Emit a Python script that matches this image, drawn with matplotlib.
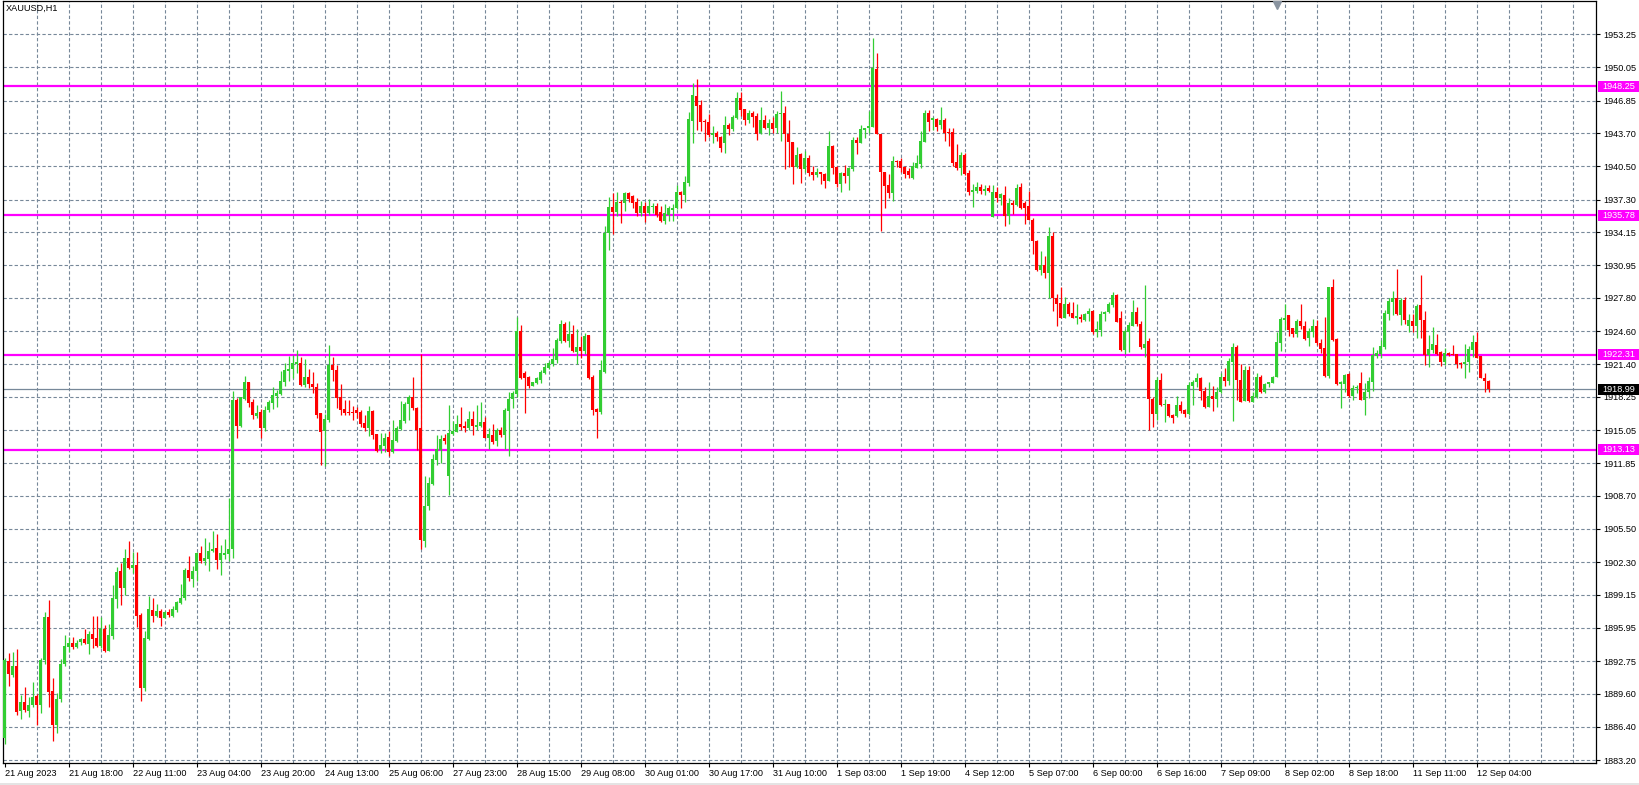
import numpy as np
import matplotlib
matplotlib.use("Agg")
import matplotlib.pyplot as plt
from matplotlib.patches import Rectangle
from matplotlib import transforms

# XAUUSD H1 bars (open, high, low, close)
opens = [
    1885.30, 1892.76, 1891.40, 1892.30, 1887.90, 1888.80, 1887.90, 1888.50, 1889.40, 1888.50,
    1892.90, 1897.00, 1889.90, 1886.60, 1889.10, 1892.50, 1894.15, 1894.46, 1894.10, 1894.60,
    1894.90, 1894.40, 1895.40, 1895.00, 1894.20, 1895.85, 1893.70, 1895.20, 1898.70, 1901.45,
    1899.84, 1902.67, 1901.77, 1902.03, 1897.20, 1890.19, 1894.90, 1897.68, 1897.14, 1897.58,
    1896.94, 1897.50, 1897.14, 1897.70, 1898.40, 1898.80, 1901.55, 1900.70, 1901.40, 1903.15,
    1902.45, 1902.64, 1903.38, 1903.64, 1902.50, 1903.00, 1903.12, 1903.57, 1917.95, 1915.41,
    1918.05, 1919.70, 1917.76, 1916.40, 1916.83, 1915.28, 1916.99, 1917.70, 1918.37, 1918.53,
    1919.72, 1920.78, 1920.95, 1921.40, 1921.50, 1919.40, 1920.17, 1919.47, 1919.18, 1916.67,
    1915.00, 1916.02, 1921.33, 1920.85, 1918.21, 1917.09, 1916.83, 1916.83, 1916.99, 1916.80,
    1915.76, 1915.22, 1916.89, 1914.67, 1913.12, 1913.54, 1914.40, 1912.90, 1914.02, 1915.15,
    1915.95, 1917.60, 1918.24, 1917.20, 1915.24, 1904.37, 1907.75, 1909.81, 1912.15, 1913.15,
    1914.31, 1910.64, 1914.67, 1914.89, 1915.63, 1915.47, 1915.21, 1916.11, 1915.37, 1915.44,
    1915.82, 1914.31, 1914.60, 1913.99, 1915.05, 1914.57, 1916.92, 1918.04, 1918.53, 1924.61,
    1920.52, 1920.14, 1919.33, 1919.56, 1919.88, 1920.59, 1921.07, 1921.39, 1921.81, 1923.64,
    1925.28, 1923.67, 1924.32, 1922.55, 1923.10, 1922.71, 1924.23, 1920.20, 1917.10, 1916.83,
    1920.69, 1934.04, 1936.61, 1936.13, 1937.10, 1936.94, 1937.90, 1937.64, 1937.10, 1936.03,
    1936.68, 1935.97, 1936.55, 1936.68, 1936.07, 1935.23, 1935.80, 1936.30, 1936.45, 1938.06,
    1937.74, 1938.87, 1944.88, 1947.30, 1946.42, 1944.91, 1944.82, 1943.56, 1943.76, 1943.37,
    1942.79, 1944.50, 1944.08, 1945.20, 1947.07, 1946.04, 1944.98, 1945.69, 1945.36, 1943.69,
    1944.98, 1944.24, 1944.72, 1944.17, 1945.56, 1945.62, 1943.66, 1942.89, 1940.47, 1941.70,
    1940.25, 1941.34, 1940.00, 1939.67, 1940.00, 1939.74, 1939.09, 1942.47, 1940.45, 1938.80,
    1939.90, 1939.61, 1940.25, 1943.05, 1942.79, 1944.01, 1944.17, 1944.34, 1949.90, 1943.60,
    1940.00, 1938.70, 1937.97, 1941.06, 1941.02, 1940.47, 1940.09, 1939.35, 1940.38, 1940.70,
    1942.89, 1945.69, 1944.98, 1945.04, 1944.50, 1944.98, 1943.86, 1943.85, 1940.96, 1940.38,
    1941.60, 1939.90, 1938.06, 1938.16, 1938.48, 1938.16, 1938.38, 1935.65, 1938.06, 1937.48,
    1937.74, 1935.74, 1936.99, 1936.77, 1938.54, 1936.99, 1936.67, 1935.32, 1933.33, 1930.50,
    1930.98, 1930.24, 1933.78, 1927.76, 1927.28, 1925.90, 1927.22, 1926.32, 1925.90, 1925.93,
    1925.67, 1926.22, 1926.54, 1924.55, 1924.71, 1926.22, 1926.41, 1927.12, 1928.09, 1925.90,
    1922.78, 1924.55, 1925.13, 1926.48, 1925.30, 1922.93, 1923.64, 1918.01, 1916.59, 1919.88,
    1917.50, 1917.56, 1916.50, 1916.43, 1917.46, 1916.98, 1916.59, 1919.33, 1919.65, 1920.04,
    1918.85, 1917.30, 1918.33, 1918.04, 1918.69, 1920.20, 1919.81, 1921.65, 1923.03, 1919.88,
    1917.88, 1920.84, 1917.78, 1918.27, 1920.20, 1918.69, 1919.46, 1919.62, 1920.20, 1923.42,
    1925.67, 1926.15, 1924.87, 1924.32, 1925.60, 1925.12, 1923.90, 1924.55, 1925.12, 1923.42,
    1922.93, 1920.26, 1928.89, 1923.84, 1919.47, 1919.47, 1920.47, 1918.37, 1919.15, 1919.56,
    1917.95, 1918.70, 1919.72, 1922.24, 1922.37, 1923.10, 1926.22, 1927.45, 1927.77, 1926.16,
    1927.61, 1925.13, 1925.58, 1925.10, 1927.12, 1925.68, 1922.30, 1922.78, 1923.26, 1922.56,
    1921.65, 1922.46, 1922.40, 1922.37, 1921.56, 1921.40, 1921.59, 1922.78, 1923.58, 1922.24,
    1920.11, 1919.79,
]
highs = [
    1893.00, 1893.50, 1893.60, 1893.90, 1889.50, 1890.20, 1889.30, 1890.70, 1889.60, 1893.05,
    1897.50, 1898.65, 1891.10, 1889.70, 1892.95, 1895.30, 1895.10, 1895.10, 1894.80, 1895.00,
    1895.85, 1895.70, 1897.10, 1897.10, 1897.04, 1896.20, 1896.30, 1900.10, 1901.87, 1902.20,
    1903.54, 1904.30, 1903.25, 1903.25, 1897.36, 1895.66, 1899.03, 1898.84, 1898.26, 1897.78,
    1897.58, 1897.75, 1898.04, 1898.55, 1900.20, 1901.70, 1902.93, 1901.93, 1903.30, 1903.86,
    1904.60, 1904.25, 1905.30, 1905.00, 1903.96, 1904.50, 1908.46, 1918.82, 1918.10, 1918.28,
    1920.27, 1919.70, 1918.02, 1917.47, 1917.12, 1917.41, 1917.95, 1919.17, 1918.92, 1920.75,
    1921.49, 1922.20, 1922.26, 1922.78, 1922.14, 1921.88, 1920.91, 1920.62, 1919.56, 1916.73,
    1916.60, 1923.26, 1922.07, 1921.33, 1919.50, 1917.95, 1917.95, 1917.41, 1917.31, 1916.99,
    1916.51, 1917.37, 1916.99, 1914.67, 1914.80, 1914.73, 1914.95, 1916.02, 1915.47, 1917.85,
    1917.72, 1918.40, 1920.17, 1917.30, 1922.36, 1910.61, 1910.55, 1912.70, 1914.57, 1914.57,
    1914.63, 1917.46, 1915.92, 1916.50, 1917.30, 1915.92, 1916.88, 1916.92, 1917.46, 1917.72,
    1916.34, 1915.28, 1915.63, 1915.21, 1915.37, 1917.14, 1918.75, 1918.82, 1925.93, 1925.19,
    1920.75, 1920.27, 1919.72, 1920.20, 1920.85, 1921.49, 1921.71, 1923.00, 1923.90, 1925.67,
    1925.51, 1925.60, 1925.19, 1924.80, 1924.13, 1924.39, 1924.23, 1920.36, 1917.15, 1921.81,
    1934.78, 1937.58, 1937.96, 1938.00, 1937.26, 1938.06, 1938.00, 1937.74, 1937.48, 1937.16,
    1937.10, 1937.32, 1936.94, 1936.94, 1936.71, 1936.87, 1936.68, 1936.84, 1938.70, 1938.13,
    1939.57, 1945.78, 1948.52, 1948.94, 1946.91, 1945.08, 1945.56, 1944.40, 1943.92, 1943.43,
    1945.36, 1944.72, 1945.46, 1947.71, 1947.71, 1946.04, 1945.94, 1945.85, 1945.62, 1946.27,
    1945.46, 1945.04, 1945.30, 1945.85, 1947.78, 1946.33, 1944.98, 1942.89, 1942.34, 1941.83,
    1941.99, 1941.60, 1940.54, 1940.31, 1940.00, 1939.83, 1943.92, 1942.57, 1940.54, 1940.00,
    1940.64, 1940.47, 1943.37, 1943.37, 1944.50, 1944.24, 1945.85, 1952.86, 1951.42, 1943.60,
    1940.00, 1939.77, 1941.50, 1941.12, 1941.34, 1940.54, 1940.31, 1940.96, 1941.60, 1943.92,
    1945.94, 1945.94, 1945.24, 1945.20, 1946.27, 1945.14, 1944.24, 1944.24, 1942.66, 1941.92,
    1941.76, 1940.15, 1938.77, 1938.96, 1938.80, 1938.70, 1938.70, 1938.70, 1938.54, 1937.90,
    1938.64, 1937.48, 1937.26, 1938.80, 1938.93, 1937.16, 1938.13, 1935.49, 1933.39, 1932.33,
    1931.85, 1934.68, 1934.13, 1928.18, 1928.83, 1927.86, 1927.44, 1927.38, 1927.22, 1926.22,
    1926.38, 1926.80, 1926.64, 1925.58, 1926.54, 1926.54, 1927.44, 1928.41, 1928.15, 1926.54,
    1924.77, 1925.45, 1927.60, 1926.96, 1925.60, 1929.05, 1923.90, 1918.27, 1920.14, 1920.59,
    1918.01, 1917.56, 1916.59, 1918.33, 1917.88, 1917.08, 1919.72, 1919.88, 1920.52, 1920.20,
    1919.23, 1919.72, 1919.30, 1919.23, 1920.52, 1921.00, 1921.97, 1923.42, 1923.26, 1921.42,
    1921.23, 1921.23, 1918.75, 1920.52, 1920.36, 1919.62, 1919.72, 1920.27, 1924.55, 1925.99,
    1927.18, 1926.15, 1924.87, 1925.73, 1927.21, 1925.60, 1924.87, 1925.73, 1925.67, 1923.80,
    1925.99, 1928.89, 1929.63, 1923.90, 1919.79, 1920.43, 1920.53, 1919.40, 1919.40, 1920.63,
    1919.56, 1920.21, 1923.10, 1922.78, 1923.75, 1926.64, 1927.83, 1928.47, 1930.60, 1927.77,
    1927.86, 1926.26, 1926.26, 1927.19, 1930.02, 1926.55, 1924.23, 1925.03, 1924.29, 1922.69,
    1923.00, 1922.62, 1923.26, 1922.37, 1921.65, 1923.33, 1923.20, 1924.23, 1924.49, 1922.24,
    1920.53, 1919.88,
]
lows = [
    1884.75, 1890.38, 1891.20, 1887.55, 1887.20, 1887.80, 1887.40, 1888.30, 1886.60, 1887.70,
    1892.50, 1888.35, 1885.07, 1885.80, 1888.80, 1892.30, 1893.66, 1893.90, 1894.05, 1894.30,
    1894.40, 1893.40, 1894.05, 1894.15, 1894.05, 1893.66, 1893.70, 1894.90, 1897.90, 1898.20,
    1899.13, 1901.64, 1901.30, 1896.07, 1888.93, 1889.90, 1894.80, 1896.56, 1896.97, 1896.17,
    1896.90, 1896.97, 1897.04, 1897.50, 1898.26, 1898.65, 1900.50, 1899.94, 1900.50, 1902.19,
    1902.03, 1901.48, 1903.25, 1901.60, 1901.06, 1902.57, 1902.41, 1902.73, 1914.30, 1915.31,
    1917.95, 1917.30, 1916.15, 1916.22, 1914.32, 1915.00, 1916.83, 1917.12, 1917.31, 1918.44,
    1919.30, 1919.82, 1920.11, 1920.59, 1919.34, 1919.24, 1919.14, 1918.66, 1916.25, 1911.68,
    1911.62, 1915.83, 1919.79, 1917.15, 1916.50, 1916.47, 1916.51, 1916.02, 1916.22, 1915.38,
    1914.96, 1914.48, 1914.16, 1912.90, 1912.86, 1912.96, 1912.57, 1912.80, 1913.93, 1915.05,
    1915.70, 1916.02, 1916.98, 1913.12, 1903.53, 1903.79, 1907.33, 1909.71, 1911.67, 1911.83,
    1913.70, 1908.78, 1914.57, 1914.83, 1915.05, 1914.89, 1915.05, 1914.57, 1915.05, 1915.37,
    1914.25, 1913.22, 1913.67, 1913.54, 1914.41, 1913.19, 1912.57, 1917.14, 1918.27, 1919.97,
    1916.72, 1919.14, 1919.30, 1919.50, 1919.56, 1920.46, 1920.91, 1921.26, 1921.49, 1923.42,
    1923.58, 1923.10, 1922.55, 1921.43, 1922.04, 1922.39, 1919.95, 1916.50, 1914.25, 1916.57,
    1920.52, 1932.43, 1933.94, 1935.71, 1935.00, 1936.23, 1937.10, 1936.45, 1935.74, 1935.71,
    1935.16, 1935.80, 1935.97, 1935.65, 1935.10, 1934.91, 1935.23, 1935.23, 1936.35, 1936.52,
    1937.10, 1938.61, 1942.73, 1944.01, 1943.92, 1942.95, 1943.37, 1942.73, 1942.95, 1941.86,
    1941.83, 1943.53, 1943.92, 1945.04, 1945.36, 1944.50, 1944.72, 1944.33, 1943.05, 1943.63,
    1944.11, 1943.53, 1943.69, 1943.69, 1942.95, 1940.25, 1940.47, 1938.80, 1940.31, 1938.93,
    1940.00, 1939.61, 1939.19, 1939.51, 1938.80, 1938.38, 1939.09, 1939.77, 1938.48, 1938.06,
    1938.87, 1938.22, 1940.09, 1941.70, 1942.73, 1943.28, 1943.69, 1944.27, 1943.60, 1934.30,
    1936.52, 1937.42, 1937.19, 1940.47, 1940.00, 1939.35, 1939.35, 1939.29, 1940.31, 1940.31,
    1942.82, 1943.92, 1944.04, 1943.92, 1944.11, 1942.95, 1942.50, 1940.57, 1940.15, 1939.67,
    1939.67, 1937.74, 1936.61, 1937.96, 1937.84, 1937.74, 1938.06, 1935.65, 1937.10, 1936.77,
    1934.74, 1934.94, 1935.90, 1936.67, 1936.35, 1934.94, 1935.32, 1932.04, 1930.43, 1930.02,
    1929.76, 1927.76, 1926.54, 1925.13, 1925.90, 1925.90, 1926.09, 1925.83, 1925.29, 1925.51,
    1925.61, 1925.61, 1924.29, 1924.06, 1924.16, 1925.61, 1926.38, 1926.96, 1925.51, 1922.68,
    1922.36, 1922.61, 1925.13, 1925.13, 1922.90, 1922.13, 1915.05, 1915.37, 1916.02, 1917.37,
    1915.86, 1916.27, 1915.70, 1916.34, 1916.66, 1916.34, 1916.50, 1917.46, 1919.23, 1917.95,
    1917.14, 1917.30, 1916.92, 1917.24, 1918.59, 1919.33, 1919.39, 1915.95, 1917.95, 1917.78,
    1917.88, 1917.78, 1917.78, 1918.11, 1918.59, 1918.65, 1919.23, 1919.56, 1920.14, 1922.71,
    1924.71, 1924.13, 1924.06, 1924.06, 1924.77, 1923.74, 1923.16, 1924.06, 1923.26, 1922.45,
    1920.20, 1920.04, 1923.65, 1919.40, 1917.15, 1918.76, 1918.28, 1917.95, 1918.60, 1917.95,
    1916.51, 1918.12, 1918.82, 1921.97, 1922.04, 1922.88, 1925.68, 1926.16, 1926.16, 1925.19,
    1925.26, 1924.55, 1924.55, 1923.97, 1923.90, 1921.33, 1921.17, 1922.46, 1922.30, 1921.24,
    1921.33, 1922.20, 1922.30, 1921.01, 1921.01, 1920.11, 1920.69, 1922.14, 1921.97, 1920.11,
    1918.70, 1918.70,
]
closes = [
    1892.90, 1891.47, 1892.30, 1887.87, 1888.80, 1888.00, 1888.50, 1889.30, 1888.50, 1892.90,
    1897.04, 1889.80, 1886.60, 1889.10, 1892.50, 1894.24, 1894.46, 1894.10, 1894.46, 1894.90,
    1894.46, 1895.40, 1894.90, 1894.20, 1895.85, 1893.70, 1895.27, 1898.84, 1901.35, 1899.84,
    1902.67, 1901.70, 1902.03, 1897.14, 1890.19, 1894.98, 1897.78, 1897.14, 1897.58, 1896.94,
    1897.50, 1897.20, 1897.80, 1898.50, 1898.84, 1901.55, 1900.80, 1901.48, 1903.15, 1902.45,
    1902.67, 1903.38, 1903.57, 1902.50, 1903.15, 1903.22, 1903.57, 1917.95, 1915.45, 1918.21,
    1919.72, 1917.70, 1916.47, 1916.73, 1915.28, 1916.99, 1917.79, 1918.44, 1918.60, 1919.79,
    1920.85, 1920.95, 1921.49, 1921.59, 1919.40, 1920.17, 1919.47, 1919.18, 1916.51, 1914.90,
    1916.12, 1921.33, 1920.85, 1918.11, 1916.99, 1916.67, 1916.67, 1916.70, 1916.73, 1915.60,
    1915.22, 1916.89, 1914.58, 1913.03, 1913.60, 1914.31, 1912.90, 1914.09, 1915.28, 1916.02,
    1917.56, 1918.24, 1917.14, 1915.05, 1904.43, 1907.75, 1909.97, 1912.25, 1913.22, 1914.18,
    1914.02, 1914.73, 1914.99, 1915.63, 1915.31, 1915.28, 1916.11, 1915.47, 1915.53, 1915.82,
    1914.31, 1914.63, 1913.93, 1915.05, 1914.57, 1916.98, 1918.04, 1918.59, 1924.61, 1920.04,
    1920.10, 1919.33, 1919.65, 1920.04, 1920.62, 1921.17, 1921.49, 1921.90, 1923.74, 1925.28,
    1923.67, 1924.32, 1922.68, 1923.10, 1922.71, 1924.13, 1920.04, 1916.99, 1916.83, 1920.85,
    1934.10, 1936.61, 1936.13, 1937.06, 1936.94, 1937.90, 1937.32, 1937.00, 1936.03, 1936.68,
    1935.97, 1936.68, 1936.71, 1935.81, 1935.23, 1935.97, 1936.45, 1936.52, 1938.06, 1937.74,
    1939.03, 1945.08, 1947.39, 1946.33, 1944.82, 1944.78, 1943.53, 1943.76, 1943.37, 1942.24,
    1944.50, 1944.08, 1945.30, 1947.07, 1945.94, 1944.98, 1945.69, 1945.30, 1943.63, 1944.98,
    1944.24, 1944.72, 1944.11, 1945.56, 1945.69, 1943.60, 1942.89, 1940.47, 1941.60, 1940.25,
    1941.34, 1939.83, 1939.67, 1940.00, 1939.74, 1939.09, 1942.47, 1940.38, 1938.80, 1939.90,
    1939.61, 1940.31, 1943.05, 1942.79, 1944.08, 1944.17, 1944.40, 1949.97, 1943.60, 1939.93,
    1938.64, 1937.97, 1941.02, 1940.96, 1940.31, 1939.77, 1939.67, 1940.54, 1940.86, 1942.95,
    1945.69, 1944.75, 1945.20, 1944.34, 1944.98, 1943.69, 1943.69, 1940.79, 1940.38, 1941.60,
    1939.77, 1938.06, 1938.22, 1938.54, 1938.16, 1938.29, 1938.13, 1938.06, 1937.42, 1937.80,
    1935.74, 1936.99, 1936.77, 1938.45, 1936.45, 1936.45, 1935.32, 1933.33, 1930.50, 1930.98,
    1930.24, 1933.78, 1927.76, 1927.22, 1925.90, 1927.22, 1926.22, 1925.83, 1926.03, 1925.77,
    1926.25, 1926.54, 1924.55, 1924.77, 1926.25, 1926.48, 1927.22, 1928.09, 1925.51, 1922.78,
    1924.61, 1925.19, 1926.48, 1925.26, 1923.10, 1923.35, 1918.01, 1916.59, 1919.88, 1917.46,
    1917.56, 1916.40, 1916.24, 1917.46, 1916.88, 1916.59, 1919.39, 1919.72, 1920.04, 1918.85,
    1917.30, 1918.36, 1918.04, 1918.69, 1920.20, 1919.81, 1921.71, 1923.03, 1919.88, 1917.78,
    1920.84, 1917.88, 1918.33, 1920.20, 1918.75, 1919.46, 1919.65, 1920.20, 1923.58, 1925.73,
    1925.90, 1924.71, 1924.32, 1925.60, 1925.12, 1923.84, 1924.61, 1925.12, 1923.42, 1922.87,
    1920.26, 1928.89, 1923.75, 1919.47, 1919.66, 1920.37, 1918.37, 1919.15, 1919.24, 1917.95,
    1918.76, 1919.79, 1922.30, 1922.46, 1923.20, 1926.32, 1927.51, 1927.83, 1926.22, 1927.61,
    1925.68, 1925.68, 1925.10, 1927.03, 1925.68, 1922.30, 1922.84, 1923.33, 1922.37, 1921.65,
    1922.46, 1922.30, 1922.30, 1921.40, 1921.40, 1921.65, 1922.88, 1923.58, 1922.04, 1920.11,
    1919.79, 1918.99,
]

time_labels = ["21 Aug 2023", "21 Aug 18:00", "22 Aug 11:00", "23 Aug 04:00", "23 Aug 20:00",
               "24 Aug 13:00", "25 Aug 06:00", "27 Aug 23:00", "28 Aug 15:00", "29 Aug 08:00",
               "30 Aug 01:00", "30 Aug 17:00", "31 Aug 10:00", "1 Sep 03:00", "1 Sep 19:00",
               "4 Sep 12:00", "5 Sep 07:00", "6 Sep 00:00", "6 Sep 16:00", "7 Sep 09:00",
               "8 Sep 02:00", "8 Sep 18:00", "11 Sep 11:00", "12 Sep 04:00"]
price_ticks = [1953.25, 1950.05, 1946.85, 1943.70, 1940.50, 1937.30, 1934.15, 1930.95,
               1927.80, 1924.60, 1921.40, 1918.25, 1915.05, 1911.85, 1908.70, 1905.50,
               1902.30, 1899.15, 1895.95, 1892.75, 1889.60, 1886.40, 1883.20]
levels = [1948.25, 1935.78, 1922.31, 1913.13]
bid = 1918.99

W, H = 1639, 785
plt.rcParams['font.family'] = ['Liberation Sans', 'DejaVu Sans']
fs = 6.6
grid_col = '#778899'
up_col = '#32CD32'
dn_col = '#FF0000'
mag = '#FF00FF'

fig = plt.figure(figsize=(W / 100, H / 100), dpi=100)
left, right, top, bottom = 3.3, 1596, 1, 763
ax = fig.add_axes([left / W, (H - bottom) / H, (right - left) / W, (bottom - top) / H])

px_per_bar = 4.0
x0 = -(4.7 - left) / px_per_bar
ax.set_xlim(x0, x0 + (right - left) / px_per_bar)
ppd = 10.36
ax.set_ylim(1953.25 - (bottom - 34.3) / ppd, 1953.25 + (34.3 - top) / ppd)

o = np.array(opens); h = np.array(highs); l = np.array(lows); c = np.array(closes)
x = np.arange(len(o))

# grid
for gx in range(8, 400, 8):
    ax.axvline(gx, color=grid_col, lw=0.8, dashes=(3, 2), zorder=0)
for gy in price_ticks:
    ax.axhline(gy, color=grid_col, lw=0.8, dashes=(3, 2), zorder=0)

# level lines
for lv in levels:
    ax.axhline(lv, color=mag, lw=1.6, zorder=1)
ax.axhline(bid, color=grid_col, lw=0.9, zorder=1)

# candles
up = c >= o
cols = np.where(up, up_col, dn_col)
ax.vlines(x, l, h, colors=cols, lw=0.9, zorder=2)
body = np.maximum(np.abs(c - o), 0.1)
ax.bar(x, body, bottom=np.minimum(o, c), width=0.75, color=cols, linewidth=0, zorder=3)

# axes styling
for s in ax.spines.values():
    s.set_color('black')
    s.set_linewidth(0.9)
ax.yaxis.tick_right()
ax.set_yticks(price_ticks)
ax.set_yticklabels(["%.2f" % p for p in price_ticks])
ax.set_xticks(np.arange(len(time_labels)) * 16)
ax.set_xticklabels(time_labels, ha='left')
ax.tick_params(axis='both', labelsize=fs, length=3, width=0.8, colors='black', pad=2)
ax.tick_params(axis='x', pad=1.5)

# price tags on the right scale
blend = transforms.blended_transform_factory(fig.transFigure, ax.transData)
tag_h = 11 / ppd
for lv, fc in [(lv, mag) for lv in levels] + [(bid, 'black')]:
    fig.add_artist(Rectangle((1597.5 / W, lv - tag_h / 2), (W - 1597.5) / W, tag_h,
                             transform=blend, facecolor=fc, edgecolor='none', zorder=5))
    fig.text(1602 / W, lv, "%.2f" % lv, transform=blend, color='white', fontsize=fs,
             va='center', ha='left', zorder=6)

ax.text(2 / (right - left), 1 - 7 / (bottom - top), "XAUUSD,H1", transform=ax.transAxes,
        fontsize=fs, va='center', ha='left', color='black')
# chart shift marker at the top edge
ax.plot([0.8], [1 - 3.5 / (bottom - top)], transform=ax.transAxes, marker='v',
        markersize=6, color='#8a94a0', clip_on=False, zorder=6)

# light strip at the very bottom of the window
fig.add_artist(Rectangle((0, 0), 1, 2.5 / H, transform=fig.transFigure,
                         facecolor='#e4e4e4', edgecolor='none'))

fig.savefig('out.png', dpi=100, facecolor='white')
